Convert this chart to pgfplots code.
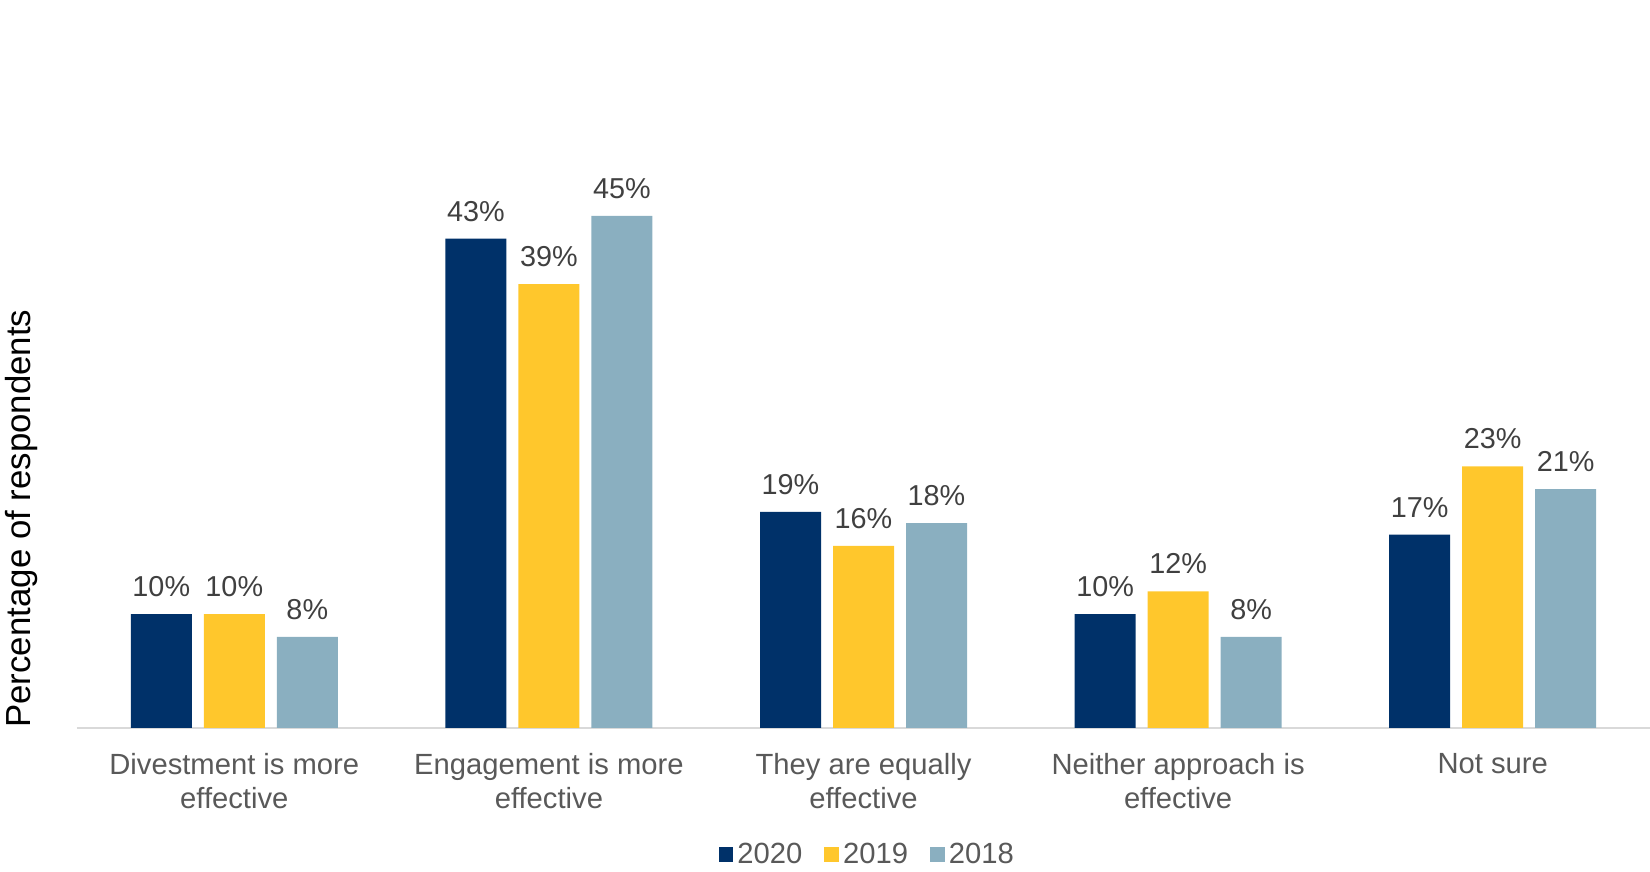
\documentclass[border=0pt]{standalone}
\usepackage{pgfplots}
\pgfplotsset{compat=1.18}
\usepackage{fontspec}
\setmainfont{Liberation Sans}
\definecolor{cnavy}{HTML}{003169}
\definecolor{cyellow}{HTML}{FFC72C}
\definecolor{cblue}{HTML}{8AAFC0}
\definecolor{tgray}{HTML}{595959}
\definecolor{dgray}{HTML}{404040}
\definecolor{lgray}{HTML}{D9D9D9}
\begin{document}
\begin{tikzpicture}
\path[use as bounding box] (0,0) rectangle (825pt,436pt);
\begin{axis}[
  at={(38.5pt,72pt)}, anchor=south west,
  scale only axis, width=786.5pt, height=284.5pt,
  ybar=6pt, bar width=30.5pt,
  xmin=-0.5, xmax=4.5, ymin=0, ymax=50,
  xtick={0,1,2,3,4},
  xticklabels={Divestment is more\\effective, Engagement is more\\effective, They are equally\\effective, Neither approach is\\effective, Not sure},
  xticklabel style={align=center, font=\fontsize{14.6}{16.9}\selectfont, text=tgray, inner sep=0pt, yshift=-12.7pt},
  ytick={0}, yticklabels={}, ymajorgrids=true,
  major grid style={color=lgray, line width=0.8pt},
  major tick length=0pt,
  axis line style={draw=none},
  /pgf/number format/assume math mode=true,
  nodes near coords={\pgfmathprintnumber{\pgfplotspointmeta}\%},
  every node near coord/.append style={font=\fontsize{14.4}{16.8}\selectfont, text=dgray, anchor=base, inner sep=0pt, yshift=8.75pt},
  legend style={at={(0.503,-0.2225)}, anchor=center, draw=none, font=\fontsize{14.6}{16.8}\selectfont, text=tgray, legend columns=-1, /tikz/every even column/.append style={column sep=9pt}},
  legend image code/.code={\fill[#1] (0pt,-3.7pt) rectangle (7.4pt,3.7pt);},
  clip=false,
]
\addplot[fill=cnavy, draw=none] coordinates {(0,10) (1,43) (2,19) (3,10) (4,17)};
\addplot[fill=cyellow, draw=none] coordinates {(0,10) (1,39) (2,16) (3,12) (4,23)};
\addplot[fill=cblue, draw=none] coordinates {(0,8) (1,45) (2,18) (3,8) (4,21)};
\legend{2020,2019,2018}
\end{axis}
\node[rotate=90, anchor=base west, inner sep=0pt, font=\fontsize{17.4}{20}\selectfont] at (15.2pt,72pt) {Percentage of respondents};
\end{tikzpicture}
\end{document}
